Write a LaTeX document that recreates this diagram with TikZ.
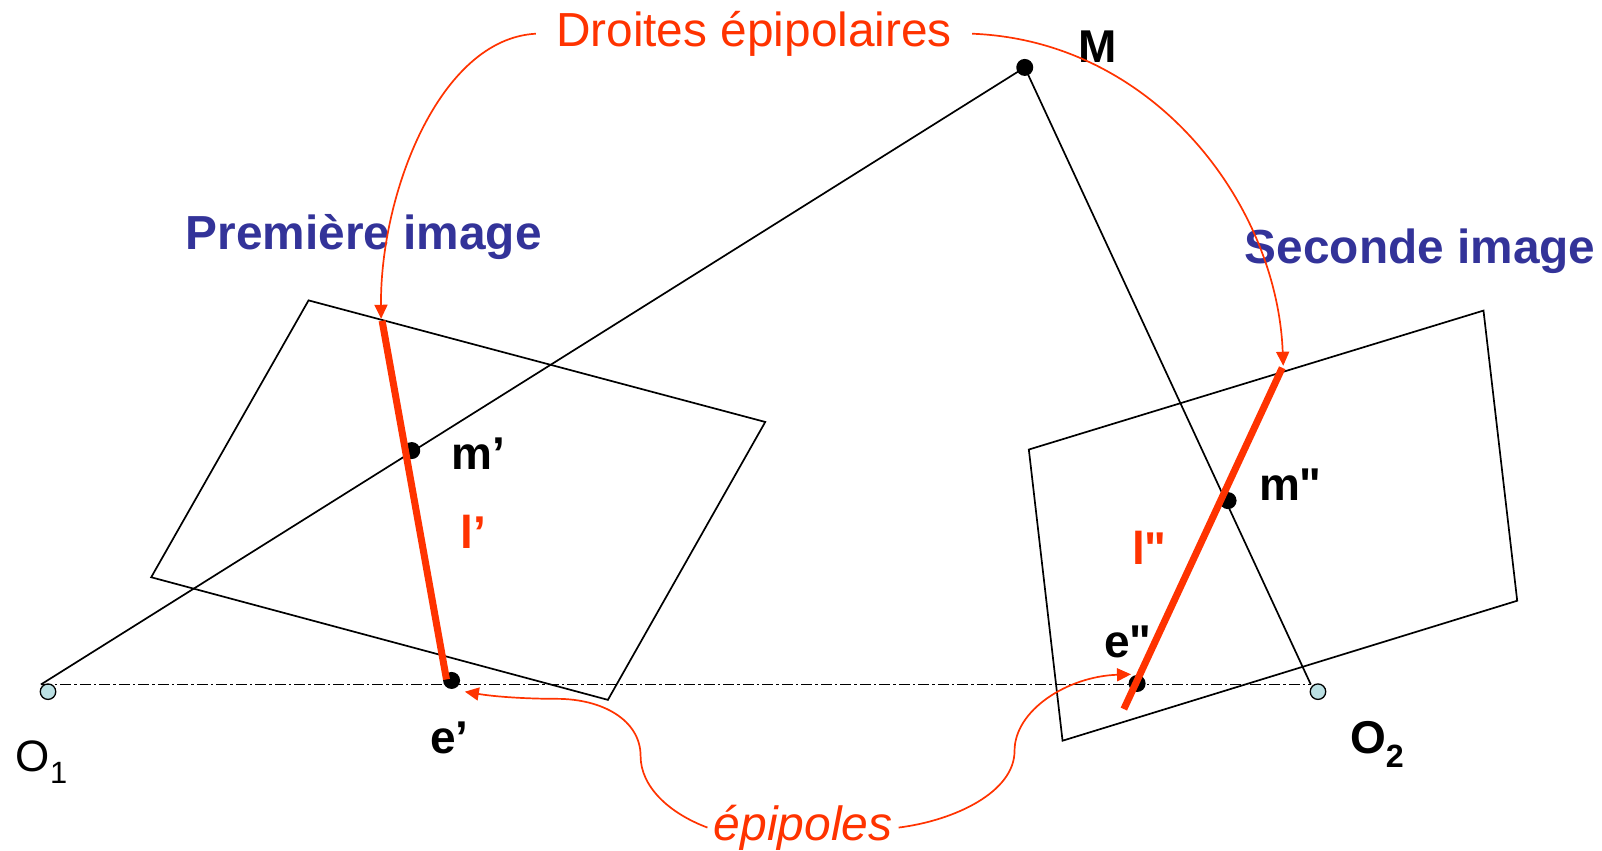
\documentclass[tikz,border=0pt]{standalone}
\usepackage{fontspec}
\setmainfont[Ligatures=TeXOff]{Liberation Sans}
\usetikzlibrary{arrows.meta}
\definecolor{redo}{RGB}{255,51,0}
\definecolor{bluet}{RGB}{51,51,153}
\definecolor{cam}{RGB}{187,224,227}
\tikzset{
  x=1.0217pt,y=-1.0217pt,
  plane/.style={draw=black,line width=1.7pt,line join=miter},
  ray/.style={draw=black,line width=1.7pt},
  base/.style={draw=black,line width=1.8pt,dash pattern=on 11pt off 3pt on 2.5pt off 3pt},
  epi/.style={draw=redo,line width=7pt},
  callout/.style={draw=redo,line width=1.7pt,-{Triangle[length=14pt,width=13pt]}},
  pt/.style={circle,fill=black,inner sep=0pt,minimum size=17pt},
  camera/.style={circle,draw=black,fill=cam,line width=1.3pt,inner sep=0pt,minimum size=15.5pt},
  blab/.style={font=\fontsize{46}{46}\selectfont\bfseries,text=black,inner sep=0pt},
  tit/.style={font=\fontsize{47.8}{47.8}\selectfont\bfseries,text=bluet,inner sep=0pt},
  rlab/.style={font=\fontsize{47.8}{47.8}\selectfont,text=redo,inner ysep=0pt},
}
\begin{document}
\begin{tikzpicture}
\useasboundingbox (0,0) rectangle (1568,832.9);
\fill[white] (0,0) rectangle (1568,832.9);
% image planes
\coordinate (a1) at (302,294); \coordinate (a2) at (749,413);
\coordinate (a3) at (595,685); \coordinate (a4) at (148,565);
\coordinate (b1) at (1007,440); \coordinate (b2) at (1452,304);
\coordinate (b3) at (1485,588); \coordinate (b4) at (1040,725);
\draw[plane] (a1) -- (a2) -- (a3) -- (a4) -- cycle;
\draw[plane] (b1) -- (b2) -- (b3) -- (b4) -- cycle;
% points
\node[pt] (M) at (1003,66) {};
\node[pt] (mp) at (403,441) {};
\node[pt] (ms) at (1202,490) {};
\node[pt] (ep) at (442,666) {};
\node[pt] (es) at (1113,669) {};
\node[camera] (O1) at (47,677) {};
\node[camera] (O2) at (1290,677) {};
\coordinate (r1) at (40,670);
\coordinate (r2) at (1283,670);
% rays and baseline
\draw[ray] (r1) -- (M.center) -- (r2);
\draw[base] (r1) -- (r2);
% epipolar lines
\coordinate (l1t) at (374,314); \coordinate (l1b) at (437,665);
\coordinate (l2t) at (1255,360); \coordinate (l2b) at (1100,694);
\draw[epi] (l1t) -- (l1b);
\draw[epi] (l2t) -- (l2b);
% labels
\node[blab] (lM) at (1074,46) {M};
\node[blab] (lmp) at (468,444) {m’};
\node[blab] (lms) at (1263,474) {m"};
\node[blab] (lep) at (440,722) {e’};
\node[blab] (les) at (1104,628) {e"};
\node[blab,text=redo] (llp) at (463,521) {l’};
\node[blab,text=redo] (lls) at (1125,536) {l"};
\node[tit] (t1) at (356,232) {Première image};
\node[tit] (t2) at (1390,246) {Seconde image};
\node[inner sep=0pt,font=\fontsize{44}{44}\selectfont] (lO1) at (41,746) {O\textsubscript{1}};
\node[blab] (lO2) at (1348,729) {O\textsubscript{2}};
\node[rlab,inner xsep=20pt] (dr) at (738,33) {Droites épipolaires};
\node[rlab,inner xsep=6pt,font=\fontsize{48}{48}\selectfont\itshape] (ep2) at (786,810) {épipoles};
% callouts
\coordinate (tipl) at (373,312); \coordinate (tipr) at (1256,358);
\coordinate (tipe) at (455,677); \coordinate (tipf) at (1107,660);
\draw[callout] (dr.west) .. controls (430,38) and (372,190) .. (tipl);
\draw[callout] (dr.east) .. controls (1130,40) and (1250,200) .. (tipr);
\draw[callout] (ep2.west) .. controls (655,796) and (627,770) .. (627,740)
   .. controls (627,705) and (590,684) .. (545,684) .. controls (515,684) and (485,682) .. (tipe);
\draw[callout] (ep2.east) .. controls (935,803) and (993,775) .. (993,735)
   .. controls (993,695) and (1045,662) .. (tipf);
\end{tikzpicture}
\end{document}
